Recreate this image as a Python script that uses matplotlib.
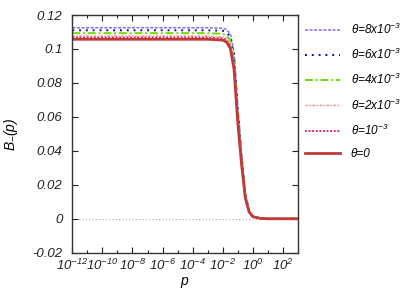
import matplotlib
matplotlib.use("Agg")
import matplotlib.pyplot as plt
from matplotlib.ticker import NullFormatter, FixedLocator
import numpy as np

plt.rcParams['font.family'] = ['Liberation Sans', 'DejaVu Sans']
plt.rcParams['mathtext.fontset'] = 'custom'
plt.rcParams['mathtext.rm'] = 'Liberation Sans:italic'
plt.rcParams['mathtext.it'] = 'Liberation Sans:italic'
plt.rcParams['mathtext.default'] = 'it'

# data
log_p = [-12, -3, -2, -1.75, -1.5, -1.25, -1.0, -0.75, -0.5, -0.25, 0, 0.5, 1, 3]
B_8e3 = [0.1125, 0.1125, 0.1122, 0.1115, 0.1090, 0.0982, 0.0665, 0.0384, 0.0149, 0.0049, 0.0014, 0.0002, 0.0, 0.0]
B_6e3 = [0.1110, 0.1110, 0.1107, 0.1099, 0.1071, 0.0958, 0.0640, 0.0368, 0.0142, 0.0047, 0.0014, 0.0002, 0.0, 0.0]
B_4e3 = [0.1093, 0.1093, 0.1089, 0.1080, 0.1050, 0.0932, 0.0615, 0.0352, 0.0135, 0.0045, 0.0013, 0.0002, 0.0, 0.0]
B_2e3 = [0.1076, 0.1076, 0.1071, 0.1061, 0.1028, 0.0906, 0.0590, 0.0336, 0.0128, 0.0043, 0.0013, 0.0002, 0.0, 0.0]
B_1e3 = [0.1067, 0.1067, 0.1062, 0.1051, 0.1017, 0.0893, 0.0578, 0.0328, 0.0124, 0.0041, 0.0012, 0.0002, 0.0, 0.0]
B_0 = [0.1057, 0.1057, 0.1052, 0.1040, 0.1005, 0.0880, 0.0565, 0.0320, 0.0120, 0.0040, 0.0012, 0.0002, 0.0, 0.0]

labels = [r'θ=8x10$^{-3}$', r'θ=6x10$^{-3}$', r'θ=4x10$^{-3}$',
          r'θ=2x10$^{-3}$', r'θ=10$^{-3}$', r'θ=0']
series = [B_8e3, B_6e3, B_4e3, B_2e3, B_1e3, B_0]
styles = [
    dict(color='#7a70ee', lw=1.1, ls=(0, (2, 1))),
    dict(color='#1010a0', lw=1.4, ls=(0, (1, 2.5))),
    dict(color='#66dd00', lw=1.4, ls=(0, (4, 1.5, 1, 1.5))),
    dict(color='#f08a8a', lw=1.0, ls=(0, (2, 1, 1, 1))),
    dict(color='#e0104a', lw=1.3, ls=(0, (1, 1))),
    dict(color='#c03a3a', lw=2.0, ls='-'),
]

W, H = 415, 291
fig = plt.figure(figsize=(W / 100, H / 100), dpi=100)
ax = fig.add_axes([72.3 / W, 1 - 252.7 / H, (298 - 72.3) / W, (252.7 - 15) / H])

p = 10.0 ** np.array(log_p)
ax.axhline(0, color='#aaaaaa', lw=0.8, ls=(0, (1, 2)), zorder=1)
handles = []
for s, lab, st in zip(series, labels, styles):
    h, = ax.plot(p, s, label=lab, **st)
    handles.append(h)

ax.set_xscale('log')
ax.set_xlim(1e-12, 1e3)
ax.set_ylim(-0.02, 0.12)
major = [1e-12, 1e-10, 1e-8, 1e-6, 1e-4, 1e-2, 1e0, 1e2]
ax.set_xticks(major)
ax.set_xticklabels([r'$10^{%d}$' % int(np.log10(v)) for v in major])
ax.xaxis.set_minor_locator(FixedLocator([10.0 ** k for k in range(-11, 4, 2)]))
ax.xaxis.set_minor_formatter(NullFormatter())
ax.set_yticks([-0.02, 0, 0.02, 0.04, 0.06, 0.08, 0.1, 0.12])
ax.set_yticklabels(['-0.02', '0', '0.02', '0.04', '0.06', '0.08', '0.1', '0.12'])
ax.tick_params(which='both', direction='in', top=True, right=True, colors='#222222')
ax.tick_params(axis='x', labelsize=9.5, pad=4)
ax.tick_params(axis='y', labelsize=9.5, pad=7)
ax.tick_params(which='major', length=4, width=0.8)
ax.tick_params(which='minor', length=2, width=0.8)
for lab in ax.get_yticklabels():
    lab.set_fontstyle('italic')
for sp in ax.spines.values():
    sp.set_color('#333333')
    sp.set_linewidth(1.0)

ax.set_xlabel(r'$p$', fontsize=10, labelpad=1)
ax.set_ylabel(r'$B_{-}(p)$', fontsize=10, labelpad=9)

leg = fig.legend(handles=handles, labels=labels, loc='upper left',
                 bbox_to_anchor=(300 / W, 1 - 17 / H), frameon=False,
                 fontsize=8.5, handlelength=3.0, handletextpad=0.9,
                 labelspacing=0.85, borderaxespad=0)
for t in leg.get_texts():
    t.set_fontstyle('italic')

fig.savefig('out.png', dpi=100)
